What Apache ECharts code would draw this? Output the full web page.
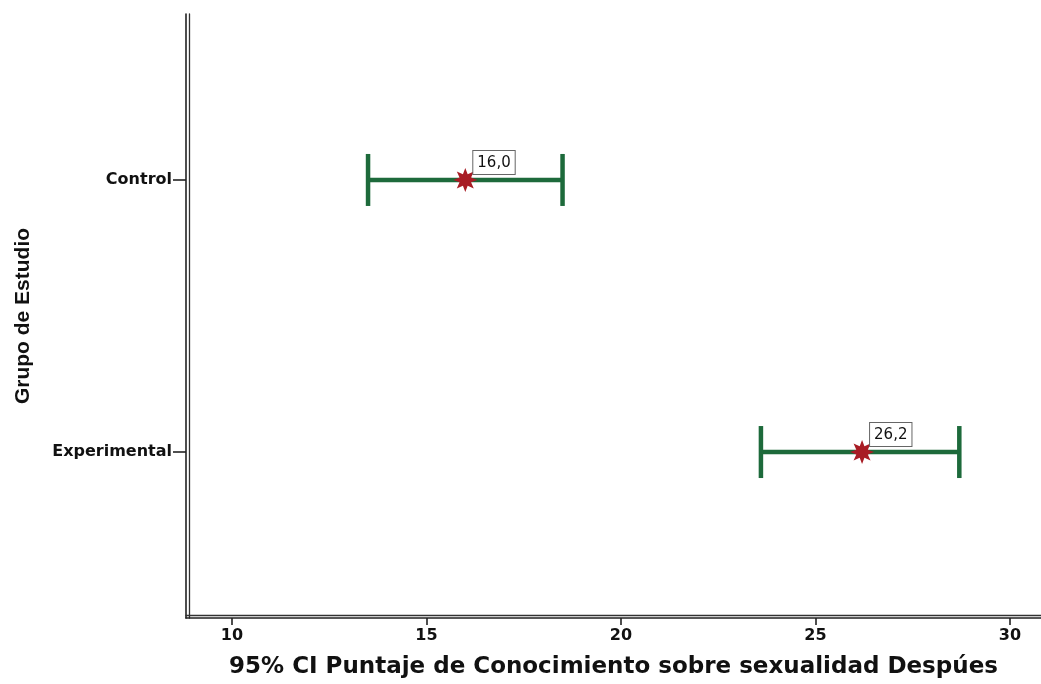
<!DOCTYPE html>
<html>
<head>
<meta charset="utf-8">
<script src="https://cdn.jsdelivr.net/npm/echarts@6/dist/echarts.min.js"></script>
<style>
  html, body { margin: 0; padding: 0; background: #fff; }
  #chart { width: 1041px; height: 684px; }
</style>
</head>
<body>
<div id="chart"></div>
<script>
// Groups and 95% confidence intervals of the post-test knowledge score
const groups = ['Control', 'Experimental'];
const means = [16.0, 26.2];
const ciLower = [13.5, 23.6];
const ciUpper = [18.5, 28.7];
const xTicks = [10, 15, 20, 25, 30];

const FONT_WIDE = '"DejaVu Sans", "Liberation Sans", Arial, sans-serif';
const FONT = '"Liberation Sans", Arial, sans-serif';
const green = '#1d6a3b';
const red = '#a81c24';

// eight-pointed star used for the mean marker
function starPath(points, outer, inner) {
  let d = '';
  for (let i = 0; i < points * 2; i++) {
    const r = i % 2 === 0 ? outer : inner;
    const a = Math.PI * i / points - Math.PI / 2;
    const x = (50 + r * Math.cos(a)).toFixed(2);
    const y = (50 + r * Math.sin(a)).toFixed(2);
    d += (i === 0 ? 'M' : 'L') + x + ' ' + y;
  }
  return 'path://' + d + 'Z';
}

const barData = groups.map((g, i) => [ciLower[i], ciUpper[i], i + 1]);
const meanData = groups.map((g, i) => [means[i], i + 1]);

const chart = echarts.init(document.getElementById('chart'), null, { renderer: 'canvas' });

const yBase = {
  type: 'value', inverse: true, min: 0.39, max: 2.61,
  splitLine: { show: false }
};
const xBase = {
  type: 'value', min: 8.82, max: 30.8,
  splitLine: { show: false }
};

chart.setOption({
  animation: false,
  backgroundColor: '#fff',
  grid: { left: 186, right: 0, top: 14, bottom: 62, containLabel: false },
  xAxis: [
    Object.assign({}, xBase, {
      name: '95% CI Puntaje de Conocimiento sobre sexualidad Despúes',
      nameLocation: 'middle', nameGap: 38,
      nameTextStyle: { fontFamily: FONT_WIDE, fontWeight: 'bold', fontSize: 23, color: '#111' },
      axisLine: { show: true, lineStyle: { color: '#222', width: 1.6 } },
      axisTick: { show: true, length: 7, customValues: xTicks, lineStyle: { color: '#222', width: 1.6 } },
      axisLabel: { show: true, customValues: xTicks, margin: 10, fontFamily: FONT_WIDE, fontWeight: 'bold', fontSize: 16, color: '#111' }
    }),
    Object.assign({}, xBase, {
      position: 'bottom', offset: -3,
      axisLine: { show: true, lineStyle: { color: '#333', width: 1.3 } },
      axisTick: { show: false }, axisLabel: { show: false }
    })
  ],
  yAxis: [
    Object.assign({}, yBase, {
      name: 'Grupo de Estudio',
      nameLocation: 'middle', nameGap: 152, nameRotate: 90,
      nameTextStyle: { fontFamily: FONT, fontWeight: 'bold', fontSize: 21, color: '#111' },
      axisLine: { show: true, lineStyle: { color: '#222', width: 1.6 } },
      axisTick: { show: true, length: 13, customValues: [1, 2], lineStyle: { color: '#222', width: 1.6 } },
      axisLabel: {
        show: true, customValues: [1, 2], margin: 14,
        fontFamily: FONT_WIDE, fontWeight: 'bold', fontSize: 16, color: '#111',
        formatter: v => groups[Math.round(v) - 1] || ''
      }
    }),
    Object.assign({}, yBase, {
      position: 'left', offset: -3,
      axisLine: { show: true, lineStyle: { color: '#333', width: 1.3 } },
      axisTick: { show: false }, axisLabel: { show: false }
    })
  ],
  series: [
    {
      type: 'custom',
      data: barData,
      z: 2,
      renderItem: function (params, api) {
        const y = api.value(2);
        const p0 = api.coord([api.value(0), y]);
        const p1 = api.coord([api.value(1), y]);
        const cap = 26;
        const style = { stroke: green, lineWidth: 4.5, fill: null };
        return {
          type: 'group',
          children: [
            { type: 'line', shape: { x1: p0[0], y1: p0[1], x2: p1[0], y2: p1[1] }, style: style },
            { type: 'line', shape: { x1: p0[0], y1: p0[1] - cap, x2: p0[0], y2: p0[1] + cap }, style: style },
            { type: 'line', shape: { x1: p1[0], y1: p1[1] - cap, x2: p1[0], y2: p1[1] + cap }, style: style }
          ]
        };
      }
    },
    {
      type: 'scatter',
      data: meanData,
      z: 3,
      symbol: starPath(8, 50, 26),
      symbolSize: 24,
      itemStyle: { color: red, opacity: 1 },
      label: {
        show: true,
        position: [20, -17],
        formatter: p => p.value[0].toFixed(1).replace('.', ','),
        fontFamily: FONT_WIDE, fontSize: 15, color: '#111', lineHeight: 18,
        backgroundColor: '#fff', borderColor: '#666', borderWidth: 1,
        padding: [3, 4, 2, 4]
      }
    }
  ]
});
</script>
</body>
</html>
